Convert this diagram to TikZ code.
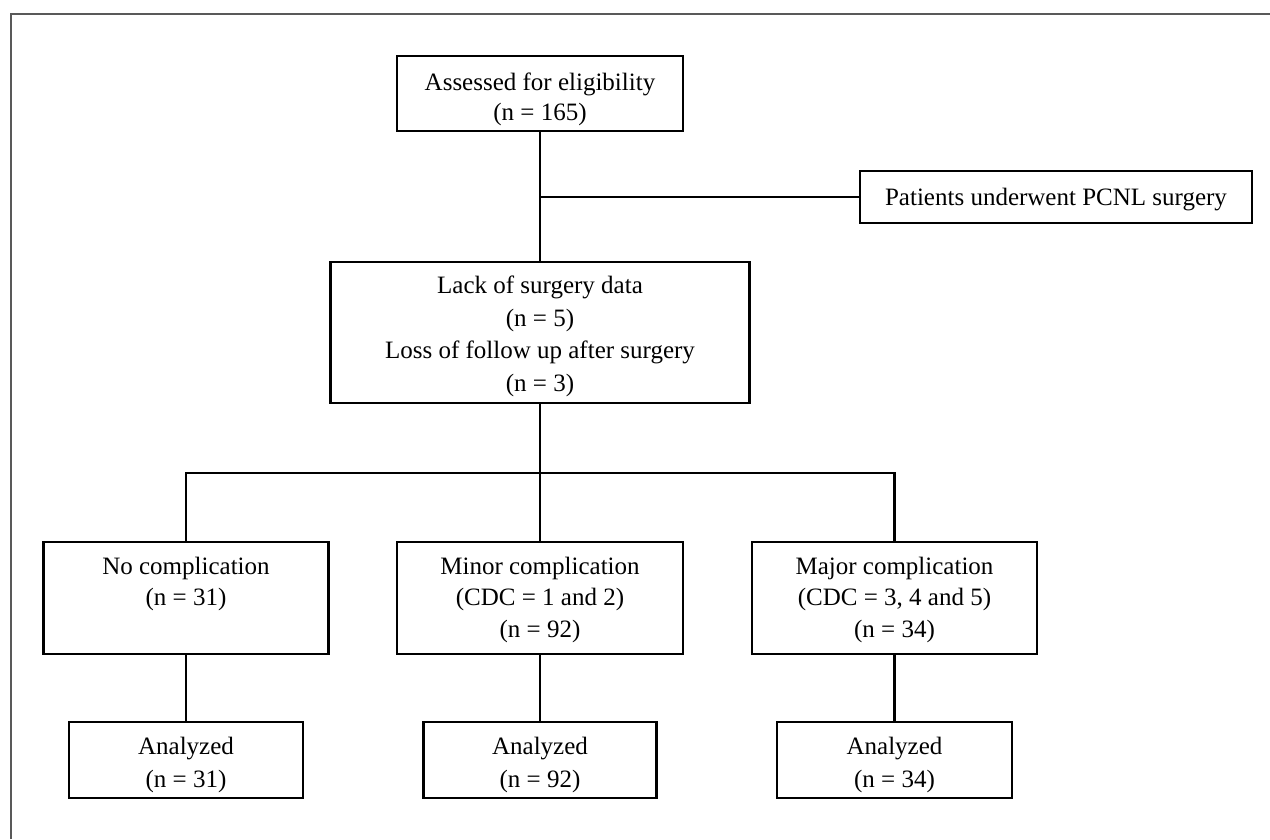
\documentclass[tikz,border=0pt]{standalone}
\usepackage{fontspec}
\setmainfont{Liberation Serif}
\begin{document}
\begin{tikzpicture}[x=1pt,y=-1pt,
  box/.style={draw=black,line width=2.8pt,inner sep=0pt},
  txt/.style={inner sep=0pt,align=center,font=\fontsize{25}{32}\selectfont},
  conn/.style={draw=black,line width=2.8pt},
  frame/.style={draw=black!65,line width=2pt}]
\useasboundingbox (0,0) rectangle (1270,839);
\draw[frame] (11,839) -- (11,14) -- (1270,14);

\node[box,minimum width=286pt,minimum height=75pt] (A) at (540,93.5) {};
\node[txt,font=\fontsize{25}{30}\selectfont] (tA) at ([yshift=-6pt]A.center) {Assessed for eligibility\\(n = 165)};
\node[box,minimum width=392pt,minimum height=52pt] (P) at (1056,197) {};
\node[txt] (tP) at ([yshift=-3pt]P.center) {Patients underwent PCNL surgery};
\node[box,minimum width=419pt,minimum height=141pt] (M) at (540,332.5) {};
\node[txt,font=\fontsize{25}{32.5}\selectfont] (tM) at ([yshift=-4pt]M.center) {Lack of surgery data\\(n = 5)\\Loss of follow up after surgery\\(n = 3)};

\node[box,minimum width=285pt,minimum height=112pt] (C1) at (186,598) {};
\node[txt,font=\fontsize{25}{31.5}\selectfont,anchor=north] (tC1) at ([yshift=-16pt]C1.north) {No complication\\(n = 31)};
\node[box,minimum width=286pt,minimum height=112pt] (C2) at (540,598) {};
\node[txt,font=\fontsize{25}{31.5}\selectfont,anchor=north] (tC2) at ([yshift=-16pt]C2.north) {Minor complication\\(CDC = 1 and 2)\\(n = 92)};
\node[box,minimum width=285pt,minimum height=112pt] (C3) at (894.5,598) {};
\node[txt,font=\fontsize{25}{31.5}\selectfont,anchor=north] (tC3) at ([yshift=-16pt]C3.north) {Major complication\\(CDC = 3, 4 and 5)\\(n = 34)};

\node[box,minimum width=234pt,minimum height=76pt] (L1) at (186,760) {};
\node[txt,font=\fontsize{25}{33}\selectfont] (tL1) at ([yshift=-5pt]L1.center) {Analyzed\\(n = 31)};
\node[box,minimum width=233pt,minimum height=76pt] (L2) at (540,760) {};
\node[txt,font=\fontsize{25}{33}\selectfont] (tL2) at ([yshift=-5pt]L2.center) {Analyzed\\(n = 92)};
\node[box,minimum width=235pt,minimum height=76pt] (L3) at (894.5,760) {};
\node[txt,font=\fontsize{25}{33}\selectfont] (tL3) at ([yshift=-5pt]L3.center) {Analyzed\\(n = 34)};

\coordinate (j) at (A.south |- P.west);
\coordinate (b) at (540,473);
\draw[conn] (A.south) -- (M.north);
\draw[conn] (j) -- (P.west);
\draw[conn] (M.south) -- (b);
\draw[conn] (C1.north) -- (C1.north |- b) -- (C3.north |- b) -- (C3.north);
\draw[conn] (b) -- (C2.north);
\draw[conn] (C1.south) -- (L1.north);
\draw[conn] (C2.south) -- (L2.north);
\draw[conn] (C3.south) -- (L3.north);
\end{tikzpicture}
\end{document}
